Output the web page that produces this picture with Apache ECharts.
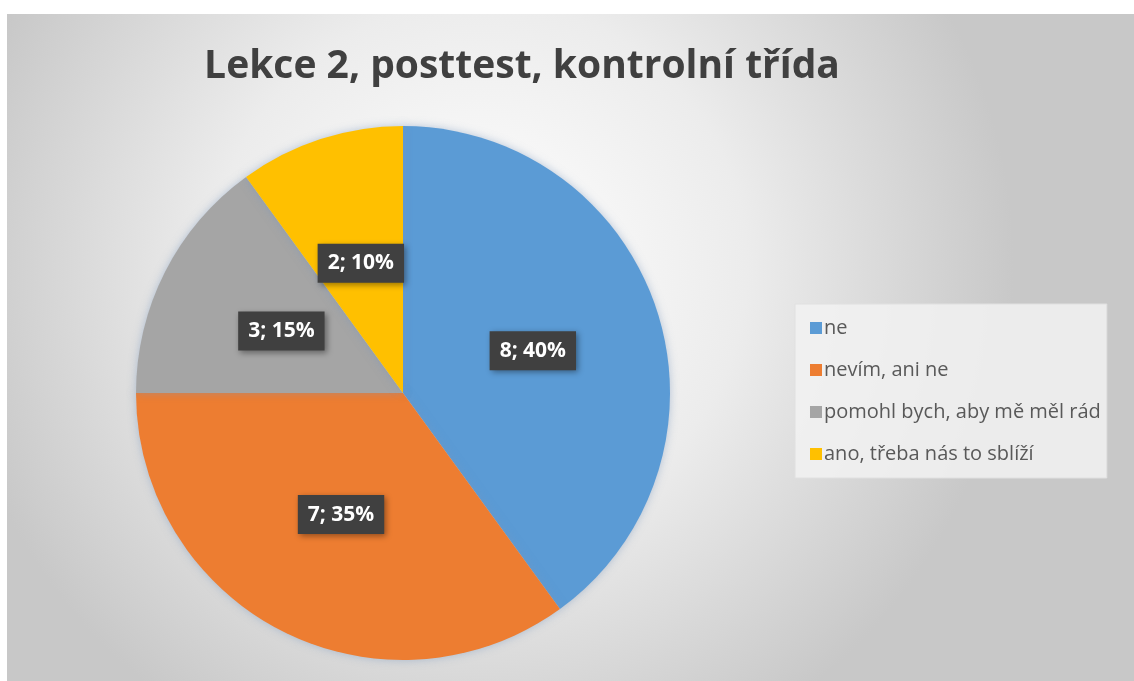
<!DOCTYPE html>
<html>
<head>
<meta charset="utf-8">
<script src="https://cdn.jsdelivr.net/npm/echarts@6/dist/echarts.min.js"></script>
<style>
  html, body { margin: 0; padding: 0; background: #fff; }
  #container { position: absolute; left: 7px; top: 14px; width: 1127px; height: 667px; }
</style>
</head>
<body>
<div id="container"></div>
<script>
var titleText = 'Lekce 2, posttest, kontrolní třída';
var categories = ['ne', 'nevím, ani ne', 'pomohl bych, aby mě měl rád', 'ano, třeba nás to sblíží'];
var values = [8, 7, 3, 2];
var colors = ['#5B9BD5', '#ED7D31', '#A5A5A5', '#FFC000'];

var myChart = echarts.init(document.getElementById('container'));
var total = values.reduce(function (a, b) { return a + b; }, 0);
var option = {
    backgroundColor: {
        type: 'radial', x: 0.42, y: 0.38, r: 0.8,
        colorStops: [
            { offset: 0, color: '#ffffff' },
            { offset: 0.5, color: '#ececec' },
            { offset: 1, color: '#c8c8c8' }
        ]
    },
    color: colors,
    title: {
        text: titleText,
        left: 510, top: 28,
        textAlign: 'center',
        textStyle: {
            fontFamily: 'Open Sans', fontSize: 39, fontWeight: 'bold', color: '#404040'
        }
    },
    legend: {
        orient: 'vertical',
        left: 788, top: 290,
        itemWidth: 12, itemHeight: 12, itemGap: 22,
        icon: 'rect',
        padding: [14, 6, 14, 15],
        backgroundColor: 'rgba(242,242,242,0.85)',
        borderColor: '#e0e0e0', borderWidth: 1,
        textStyle: { fontFamily: 'Open Sans', fontSize: 20, color: '#595959', padding: [0, 0, 0, -3] },
        data: categories
    },
    series: [{
        type: 'pie',
        center: [396, 379],
        radius: [0, 267],
        startAngle: 90,
        clockwise: true,
        silent: true,
        itemStyle: { shadowBlur: 8, shadowColor: 'rgba(120,150,190,0.5)' },
        label: {
            position: 'inside',
            formatter: function (p) {
                return p.value + '; ' + Math.round(p.value / total * 100) + '%';
            },
            fontFamily: 'Open Sans', fontSize: 21, fontWeight: 'bold', color: '#fff',
            backgroundColor: '#404040',
            padding: [10, 10, 8, 10],
            shadowBlur: 6, shadowColor: 'rgba(0,0,0,0.4)', shadowOffsetX: 2, shadowOffsetY: 2
        },
        labelLine: { show: false },
        data: categories.map(function (c, i) { return { name: c, value: values[i] }; })
    }]
};
myChart.setOption(option);
</script>
</body>
</html>
